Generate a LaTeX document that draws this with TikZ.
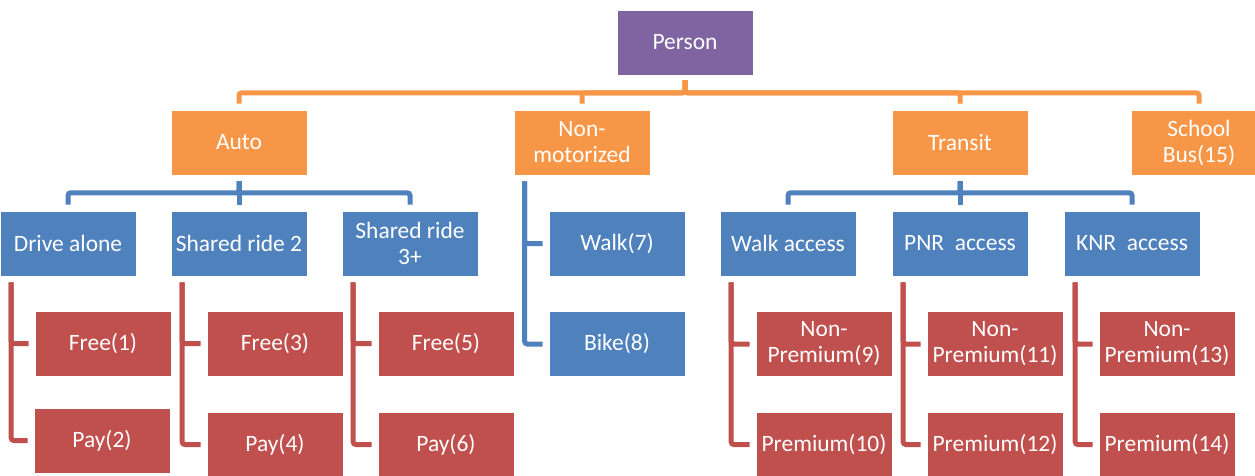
\documentclass[tikz,border=0pt]{standalone}
\usepackage{fontspec}
\setmainfont{Carlito}
\usetikzlibrary{calc}
\definecolor{cOrange}{HTML}{F79646}
\definecolor{cPurple}{HTML}{8064A2}
\definecolor{cBlue}{HTML}{4F81BD}
\definecolor{cRed}{HTML}{C0504D}
\begin{document}
\begin{tikzpicture}[x=0.75pt,y=-0.75pt,
  box/.style={rectangle, minimum width=102pt, minimum height=48.75pt, inner sep=0pt,
    text=white, align=center, font=\fontsize{17.6}{19.5}\selectfont, draw=white, line width=0.5pt},
  pbox/.style={box, fill=cPurple},
  obox/.style={box, fill=cOrange},
  bbox/.style={box, fill=cBlue},
  rbox/.style={box, fill=cRed},
  conn/.style={line width=3.75pt, rounded corners=2pt},
  oline/.style={conn, draw=cOrange},
  bline/.style={conn, draw=cBlue},
  rline/.style={conn, draw=cRed}]
\useasboundingbox (0,0) rectangle (1255,475);
\clip (0,0) rectangle (1255,475);
% level 1
\node[pbox] (person) at (685,42.5) {Person};
% level 2
\node[obox] (auto) at (239,142.5) {Auto};
\node[obox] (nonmot) at (582,142.5) {Non-\\motorized};
\node[obox] (transit) at (960,142.5) {Transit};
\node[obox] (school) at (1199,142.5) {School\\Bus(15)};
% level 3
\node[bbox] (drive) at (68,243.5) {Drive alone};
\node[bbox] (sr2) at (239,243.5) {Shared ride 2};
\node[bbox] (sr3) at (410,243.5) {Shared ride\\3+};
\node[bbox] (walk) at (617,243.5) {Walk(7)};
\node[bbox] (bike) at (617,344) {Bike(8)};
\node[bbox] (wacc) at (788,243.5) {Walk access};
\node[bbox] (pnr) at (960,243.5) {PNR\ \ access};
\node[bbox] (knr) at (1132,243.5) {KNR\ \ access};
% level 4
\node[rbox] (f1) at (103,343.5) {Free(1)};
\node[rbox] (p2) at (102,440.5) {Pay(2)};
\node[rbox] (f3) at (275,343.5) {Free(3)};
\node[rbox] (p4) at (275,444.5) {Pay(4)};
\node[rbox] (f5) at (446,343.5) {Free(5)};
\node[rbox] (p6) at (446,444.5) {Pay(6)};
\node[rbox] (np9) at (824,344) {Non-\\Premium(9)};
\node[rbox] (pr10) at (824,444.5) {Premium(10)};
\node[rbox] (np11) at (995,344) {Non-\\Premium(11)};
\node[rbox] (pr12) at (995,444.5) {Premium(12)};
\node[rbox] (np13) at (1167,344) {Non-\\Premium(13)};
\node[rbox] (pr14) at (1167,444.5) {Premium(14)};
% connectors
\foreach \c in {auto,nonmot,transit,school}
  \draw[oline] ($(person.south)+(0,5)$) -- ($(person.south)+(0,17.5)$) -| ($(\c.north)+(0,-6)$);
\foreach \c in {drive,sr2,sr3}
  \draw[bline] ($(auto.south)+(0,6)$) -- ($(auto.south)+(0,17.5)$) -| ($(\c.north)+(0,-6)$);
\foreach \c in {wacc,pnr,knr}
  \draw[bline] ($(transit.south)+(0,6)$) -- ($(transit.south)+(0,17.5)$) -| ($(\c.north)+(0,-6)$);
\foreach \c in {walk,bike}
  \draw[bline] ($(nonmot.south west)+(11,6)$) |- ($(\c.west)+(-6,0)$);
\foreach \p/\a/\b in {drive/f1/p2, sr2/f3/p4, sr3/f5/p6, wacc/np9/pr10, pnr/np11/pr12, knr/np13/pr14}{
  \draw[rline] ($(\p.south west)+(11.5,6)$) |- ($(\a.west)+(-6,0)$);
  \draw[rline] ($(\p.south west)+(11.5,6)$) |- ($(\b.west)+(-6,0)$);
}
\end{tikzpicture}
\end{document}
